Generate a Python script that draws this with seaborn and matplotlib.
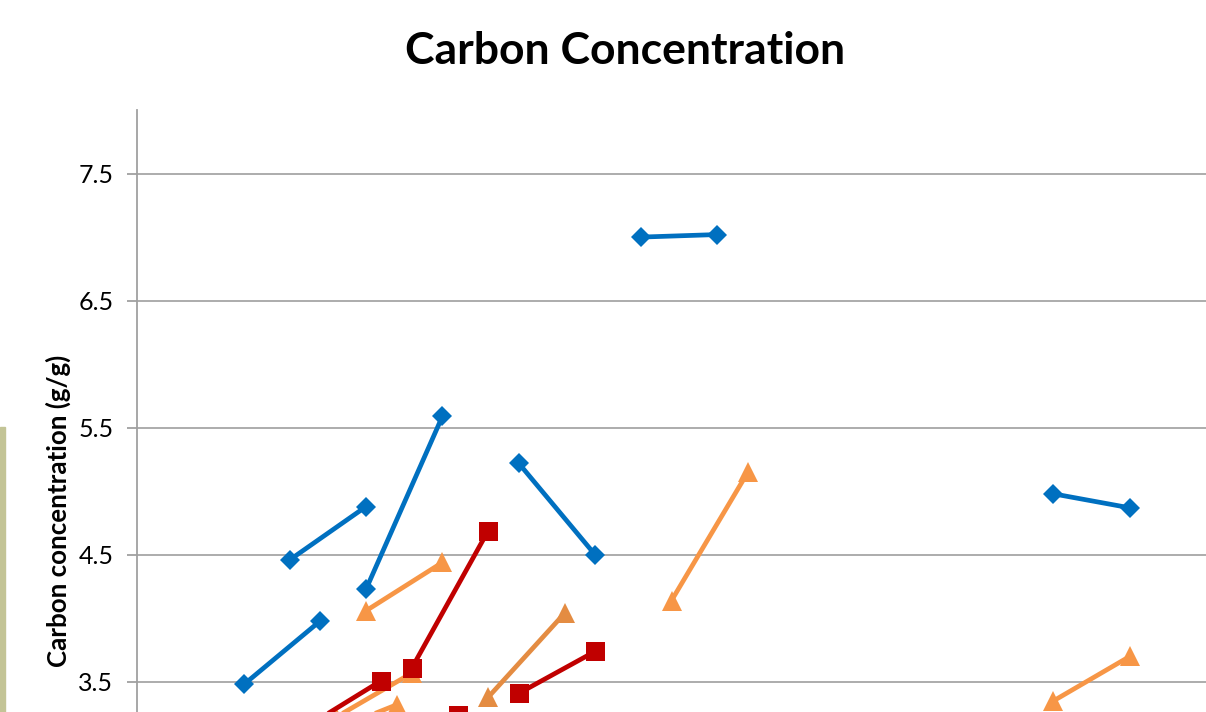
import numpy as np
import pandas as pd
import seaborn as sns
import matplotlib.pyplot as plt
from matplotlib.patches import Rectangle

# each pair is a short two-point segment (start, end)
blue_x = [(7, 12), (10, 15), (15, 20), (25, 30), (33, 38), (60, 65)]
blue_y = [(3.48, 3.98), (4.46, 4.88), (4.23, 5.59), (5.22, 4.50), (7.00, 7.02), (4.98, 4.87)]

orange_x = [(15, 20), (13, 18), (12, 17), (35, 40), (60, 65)]
orange_y = [(4.06, 4.44), (3.22, 3.57), (3.08, 3.32), (4.14, 5.15), (3.35, 3.70)]

dark_orange_x = [(23, 28)]
dark_orange_y = [(3.38, 4.04)]

red_x = [(11, 16), (18, 23), (25, 30), (16, 21)]
red_y = [(3.14, 3.51), (3.61, 4.69), (3.41, 3.74), (2.95, 3.24)]

y_ticks = [3.5, 4.5, 5.5, 6.5, 7.5]


def to_frame(xs, ys, name):
    rows = []
    for i, (px, py) in enumerate(zip(xs, ys)):
        for xv, yv in zip(px, py):
            rows.append({'x': xv, 'y': yv, 'pair': f'{name}{i}'})
    return pd.DataFrame(rows)


series = [
    (to_frame(blue_x, blue_y, 'b'), '#0070C0', 'D', 13.5),
    (to_frame(orange_x, orange_y, 'o'), '#F79646', '^', 20),
    (to_frame(dark_orange_x, dark_orange_y, 'd'), '#E48C42', '^', 20),
    (to_frame(red_x, red_y, 's'), '#C00000', 's', 19),
]

sns.set_style('white')
plt.rcParams['font.family'] = ['Lato', 'DejaVu Sans']

fig = plt.figure(figsize=(12.06, 7.12), dpi=100)
W, H = 1206, 712
# the plot area runs off the bottom of the picture
ax = fig.add_axes([137 / W, (712 - 809) / H, (W - 137) / W, (809 - 110) / H])

for df, color, marker, ms in series:
    sns.lineplot(data=df, x='x', y='y', units='pair', estimator=None, ax=ax,
                 color=color, marker=marker, markersize=ms * 72 / 100,
                 markeredgewidth=0, linewidth=3.4, sort=True, legend=False)

ax.set_xlim(0, 70)
ax.set_ylim(2.5, 8.0)
ax.set_yticks(y_ticks)
ax.set_yticklabels([f'{t:.1f}' for t in y_ticks])
ax.yaxis.grid(True, color='#A6A6A6', linewidth=1.3)
ax.set_axisbelow(True)
ax.set_xticks([])
ax.set_xlabel('')
ax.set_ylabel('')
for s in ['top', 'right', 'bottom']:
    ax.spines[s].set_visible(False)
ax.spines['left'].set_color('#A0A0A0')
ax.spines['left'].set_linewidth(1.3)
ax.tick_params(axis='y', length=7, width=1.3, color='#A0A0A0', pad=10,
               labelsize=18, labelcolor='black', left=True)

fig.text(625 / W, 1 - 51 / H, 'Carbon Concentration', ha='center', va='center',
         fontsize=32, fontweight='bold', color='black')
fig.text(58 / W, 1 - 511 / H, 'Carbon concentration (g/g)', ha='center', va='center',
         rotation=90, fontsize=18.6, fontweight='bold', color='black')

# slide background strip at the left edge
fig.patches.append(Rectangle((0, 0), 5 / W, (712 - 427) / H, transform=fig.transFigure,
                             color='#C3C496', zorder=0))

fig.savefig('out.png', dpi=100)
